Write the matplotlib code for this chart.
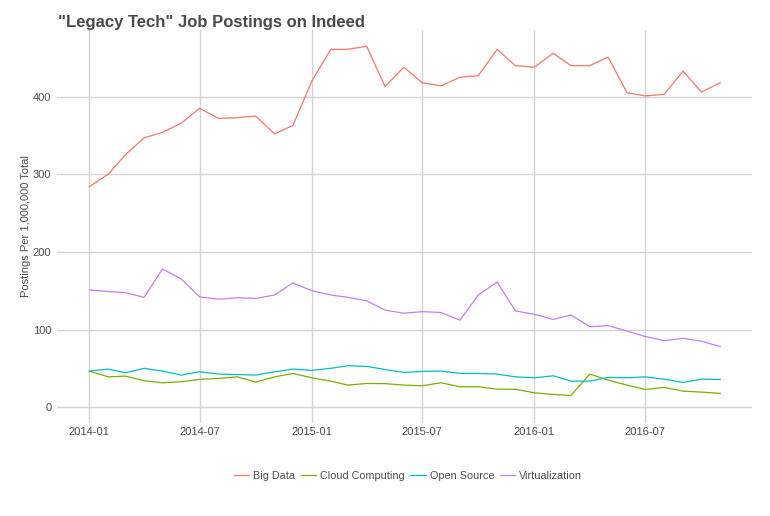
import numpy as np
import pandas as pd
import matplotlib
matplotlib.use("Agg")
import matplotlib.pyplot as plt
import matplotlib.dates as mdates

plt.rcParams['font.family'] = ['Liberation Sans', 'DejaVu Sans']

# monthly postings per 1,000,000, 2014-01 .. 2016-11
months = pd.date_range("2014-01-01", "2016-11-01", freq="MS")

big_data = [284, 300, 325, 347, 354, 366, 385, 372, 373, 375, 352, 363,
            420, 461, 461, 465, 413, 438, 418, 414, 425, 427, 461, 440,
            438, 456, 440, 440, 451, 405, 401, 403, 433, 406, 418]
cloud_computing = [46.5, 39, 40, 34, 31.4, 32.7, 35.7, 37, 39, 32.3, 39, 43.4,
                   37.8, 33.5, 28.4, 30.5, 30.3, 28.4, 27.5, 31.4, 26.2, 26.2, 23.2, 23,
                   18.5, 16.3, 15, 42.6, 34.8, 28.4, 22.8, 25.4, 20.6, 19.4, 17.7]
open_source = [46.5, 49, 44.3, 50, 46.5, 41.3, 45.6, 42.6, 42, 41.3, 45.6, 49,
               47.3, 50, 53.3, 52.5, 48.5, 44.7, 46, 46.5, 43.4, 43.4, 42.6, 39,
               37.8, 40.4, 33.5, 33.5, 38.3, 37.8, 39, 36, 31.8, 36, 35.6]
virtualization = [151, 149, 147.5, 141.5, 178, 165, 142, 139, 141, 140, 144.5, 160,
                  150, 144.5, 141.5, 137, 125, 121, 123, 122, 112, 144.5, 161, 124,
                  119.6, 113, 118.7, 103.6, 105, 98, 91, 85.6, 88.6, 85, 78]

series = [("Big Data", big_data, "#F8766D"),
          ("Cloud Computing", cloud_computing, "#7CAE00"),
          ("Open Source", open_source, "#00BFC4"),
          ("Virtualization", virtualization, "#C77CFF")]

fig = plt.figure(figsize=(7.7, 5.16), dpi=100)
ax = fig.add_axes([0.074, 0.180, 0.9026, 0.762])

for name, vals, col in series:
    ax.plot(months, vals, color=col, lw=0.9, label=name)

ax.set_xlim(pd.Timestamp("2013-11-09"), pd.Timestamp("2016-12-23"))
ax.set_ylim(-20.6, 486)
ax.set_yticks([0, 100, 200, 300, 400])
ax.xaxis.set_major_locator(mdates.MonthLocator(bymonth=[1, 7]))
ax.xaxis.set_major_formatter(mdates.DateFormatter("%Y-%m"))

ax.grid(True, color="#d4d4d4", lw=1.0)
ax.set_axisbelow(True)
for s in ax.spines.values():
    s.set_visible(False)
ax.tick_params(length=0, labelsize=8, colors="#4d4d4d", pad=4)
ax.tick_params(axis='x', pad=3)

ax.set_ylabel("Postings Per 1,000,000 Total", fontsize=8, color="#4d4d4d", labelpad=1.5)

fig.text(0.075, 0.957, '"Legacy Tech" Job Postings on Indeed', fontsize=12,
         fontweight="bold", color="#4a4a4a", va="center", ha="left")

leg = fig.legend(loc="center", bbox_to_anchor=(0.530, 0.077), ncol=4, frameon=False,
                 fontsize=7.8, handlelength=1.4, handletextpad=0.4, columnspacing=0.5)
for t in leg.get_texts():
    t.set_color("#4d4d4d")

fig.savefig("out.png", dpi=100)
